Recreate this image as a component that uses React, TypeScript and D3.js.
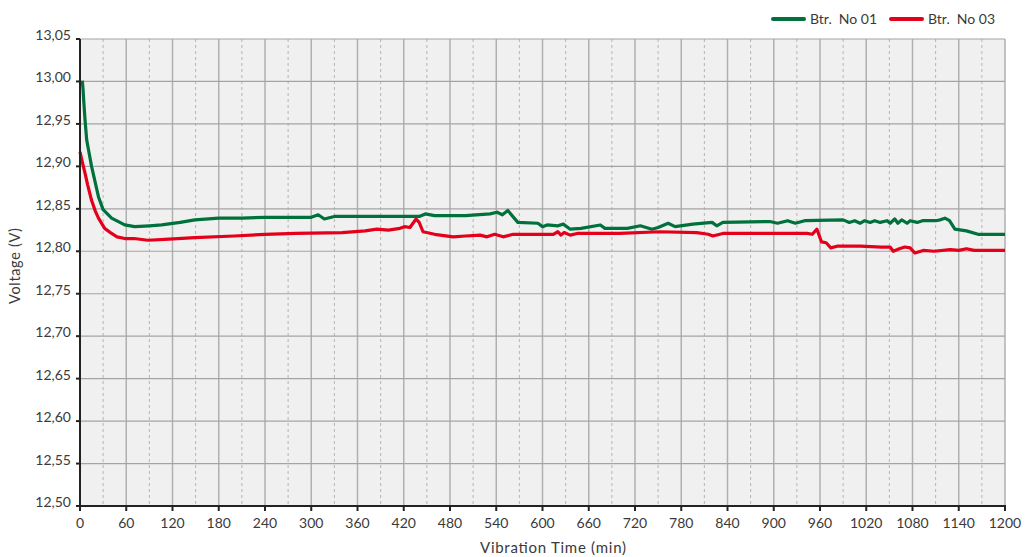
import React from "react";
import * as d3 from "d3";

// Btr. No 01 (green)
const greenTime = [
  3, 4, 5, 6.5, 8.7, 15, 24, 30, 41, 58, 71, 90, 106, 130, 149, 180, 210, 240, 270, 300,
  309, 317, 330, 360, 400, 440, 448, 460, 500, 532, 541, 548, 555, 568, 594, 600, 606, 620,
  627, 636, 650, 675, 681, 710, 727, 742, 750, 763, 772, 795, 820, 826, 834, 895, 905, 918,
  928, 940, 990, 998, 1005, 1012, 1018, 1025, 1031, 1038, 1047, 1051, 1057, 1061, 1066, 1073,
  1077, 1086, 1093, 1110, 1116, 1122, 1128, 1135, 1150, 1165, 1200,
];
const greenVolt = [
  13.001, 12.99, 12.975, 12.955, 12.931, 12.9, 12.864, 12.849, 12.839, 12.831, 12.829, 12.83,
  12.831, 12.834, 12.837, 12.839, 12.839, 12.84, 12.84, 12.84, 12.843, 12.838, 12.841, 12.841,
  12.841, 12.841, 12.844, 12.842, 12.842, 12.844, 12.846, 12.843, 12.848, 12.834, 12.833,
  12.829, 12.831, 12.83, 12.832, 12.826, 12.827, 12.831, 12.827, 12.827, 12.83, 12.826, 12.828,
  12.833, 12.829, 12.832, 12.834, 12.83, 12.834, 12.835, 12.833, 12.836, 12.833, 12.836,
  12.837, 12.834, 12.836, 12.833, 12.836, 12.834, 12.836, 12.834, 12.836, 12.833, 12.838,
  12.833, 12.837, 12.833, 12.836, 12.834, 12.836, 12.836, 12.837, 12.839, 12.836, 12.826,
  12.824, 12.82, 12.82,
];

// Btr. No 03 (red)
const redTime = [
  0, 3, 6.5, 10, 15, 20, 24, 32, 41, 48, 58, 70, 88, 110, 149, 200, 240, 280, 340, 370, 385,
  400, 415, 421, 428, 436, 440, 445, 460, 484, 500, 519, 528, 538, 549, 562, 614, 620, 624,
  628, 636, 645, 700, 752, 800, 815, 821, 834, 900, 943, 950, 956, 962, 968, 974, 982, 1012,
  1040, 1051, 1055, 1063, 1070, 1077, 1083, 1094, 1108, 1129, 1140, 1150, 1160, 1200,
];
const redVolt = [
  12.917, 12.905, 12.892, 12.878, 12.86, 12.847, 12.839, 12.827, 12.821, 12.817, 12.815,
  12.815, 12.813, 12.814, 12.816, 12.818, 12.82, 12.821, 12.822, 12.824, 12.826, 12.825,
  12.827, 12.829, 12.828, 12.838, 12.834, 12.823, 12.82, 12.817, 12.818, 12.819, 12.817, 12.82,
  12.817, 12.82, 12.82, 12.823, 12.819, 12.822, 12.819, 12.821, 12.821, 12.823, 12.822, 12.82,
  12.818, 12.821, 12.821, 12.821, 12.82, 12.826, 12.811, 12.81, 12.804, 12.806, 12.806,
  12.805, 12.805, 12.8, 12.803, 12.805, 12.804, 12.798, 12.801, 12.8, 12.802, 12.801, 12.803,
  12.801, 12.801,
];

const xTicks = d3.range(0, 1201, 60);
const xMinor = d3.range(30, 1200, 60);
const yTicks = d3.range(0, 12).map((i) => +(12.5 + i * 0.05).toFixed(2));

const seriesNames = ["Btr.  No 01", "Btr.  No 03"];
const seriesColors = ["#00703c", "#e4001b"];

const W = 1025;
const H = 557;
const margin = { top: 39, right: 20, bottom: 51, left: 80 };

const fmt = (v: number) => v.toFixed(2).replace(".", ",");

export default function App() {
  const x = d3.scaleLinear().domain([0, 1200]).range([margin.left, W - margin.right]);
  const y = d3.scaleLinear().domain([12.5, 13.05]).range([H - margin.bottom, margin.top]);

  const line = d3
    .line<[number, number]>()
    .x((d) => x(d[0]))
    .y((d) => y(d[1]));

  const greenPts = greenTime.map((t, i) => [t, greenVolt[i]] as [number, number]);
  const redPts = redTime.map((t, i) => [t, redVolt[i]] as [number, number]);

  const [x0, x1] = x.range();
  const [yb, yt] = y.range();
  const font = "Lato, 'Open Sans', sans-serif";

  return (
    <svg
      width={W}
      height={H}
      style={{ position: "absolute", left: 0, top: 0, background: "#fff" }}
      fontFamily={font}
    >
      <rect x={x0} y={yt} width={x1 - x0} height={yb - yt} fill="#f0f0f0" />

      {xMinor.map((t) => (
        <line key={"m" + t} x1={x(t)} x2={x(t)} y1={yt} y2={yb} stroke="#b4b4b4" strokeWidth={1} strokeDasharray="3,3" />
      ))}
      {xTicks.slice(1).map((t) => (
        <line key={"v" + t} x1={x(t)} x2={x(t)} y1={yt} y2={yb} stroke="#b0b0b0" strokeWidth={1.5} />
      ))}
      {yTicks.slice(1).map((v) => (
        <line key={"h" + v} x1={x0} x2={x1} y1={y(v)} y2={y(v)} stroke="#a4a4a4" strokeWidth={1.2} />
      ))}

      <path d={line(greenPts) || ""} fill="none" stroke={seriesColors[0]} strokeWidth={3.2} strokeLinejoin="round" />
      <path d={line(redPts) || ""} fill="none" stroke={seriesColors[1]} strokeWidth={3.2} strokeLinejoin="round" />

      {/* axes */}
      <line x1={x0} x2={x0} y1={yt} y2={yb + 1} stroke="#222" strokeWidth={2} />
      <line x1={x0 - 1} x2={x1 + 1} y1={yb} y2={yb} stroke="#222" strokeWidth={2} />
      {yTicks.map((v) => (
        <g key={"yt" + v}>
          <line x1={x0 - 4} x2={x0} y1={y(v)} y2={y(v)} stroke="#222" strokeWidth={2} />
          <text x={x0 - 9} y={y(v) + 1} textAnchor="end" fontSize={14} fill="#3a3a3a">
            {fmt(v)}
          </text>
        </g>
      ))}
      {xTicks.map((t) => (
        <g key={"xt" + t}>
          <line x1={x(t)} x2={x(t)} y1={yb} y2={yb + 5} stroke="#222" strokeWidth={2} />
          <text x={x(t)} y={yb + 22} textAnchor="middle" fontSize={14} fill="#3a3a3a">
            {t}
          </text>
        </g>
      ))}

      <text x={553} y={553} textAnchor="middle" fontSize={15} fill="#3a3a3a" textLength={146}>
        Vibration Time (min)
      </text>
      <text
        transform="translate(20,266) rotate(-90)"
        textAnchor="middle"
        fontSize={14.5}
        fill="#3a3a3a"
        textLength={76}
      >
        Voltage (V)
      </text>

      {/* legend */}
      {seriesNames.map((name, i) => {
        const lx = i === 0 ? 773 : 891;
        return (
          <g key={name}>
            <line x1={lx} x2={lx + 31} y1={19} y2={19} stroke={seriesColors[i]} strokeWidth={4} strokeLinecap="round" />
            <text x={lx + 37} y={24} fontSize={14} fill="#3a3a3a" style={{ whiteSpace: "pre" }}>
              {name}
            </text>
          </g>
        );
      })}
    </svg>
  );
}
